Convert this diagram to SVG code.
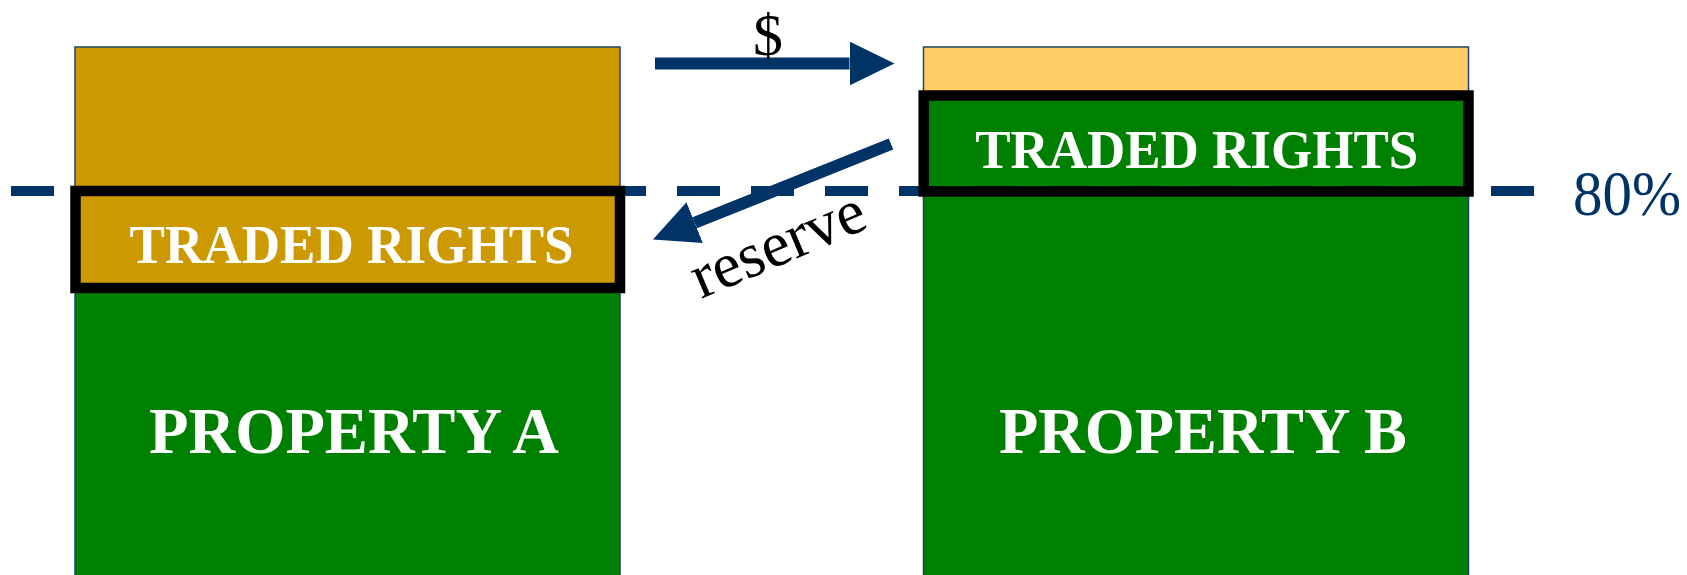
<svg xmlns="http://www.w3.org/2000/svg" width="1687" height="575" viewBox="0 0 1687 575">
  <style>
    .box { stroke: #1F3F6F; stroke-width: 1.5; }
    .frame { fill: none; stroke: #000000; stroke-width: 10.5; }
    .lbl { font-family: "Liberation Serif", "Times New Roman", serif; font-weight: bold; fill: #FFFFFF; text-anchor: middle; }
    .plain { font-family: "Liberation Serif", "Times New Roman", serif; fill: #000000; }
    .arrow { stroke: #003366; stroke-width: 12; fill: none; }
  </style>
  <defs>
    <marker id="head" markerUnits="userSpaceOnUse" markerWidth="46" markerHeight="46" refX="0" refY="22" orient="auto">
      <path d="M0,0 L45,22 L0,44 Z" fill="#003366"/>
    </marker>
  </defs>
  <rect x="0" y="0" width="1687" height="575" fill="#FFFFFF"/>

  <g id="property-a">
    <rect class="box" x="75" y="47" width="545" height="540" fill="#008000"/>
    <rect x="75.75" y="47.75" width="543.5" height="240.25" fill="#CC9900"/>
    <text class="lbl" x="354" y="453" font-size="65" textLength="410" lengthAdjust="spacingAndGlyphs">PROPERTY A</text>
  </g>

  <g id="property-b">
    <rect class="box" x="923.5" y="47" width="545" height="540" fill="#008000"/>
    <rect x="924.25" y="47.75" width="543.5" height="48" fill="#FFCC66"/>
    <text class="lbl" x="1203" y="453" font-size="65" textLength="408" lengthAdjust="spacingAndGlyphs">PROPERTY B</text>
  </g>

  <g id="threshold">
    <line x1="11" y1="191" x2="1534" y2="191" stroke="#003366" stroke-width="10" stroke-dasharray="43 31"/>
    <text x="1573" y="215" font-family="Liberation Serif, Times New Roman, serif" font-size="64" fill="#003366" textLength="108" lengthAdjust="spacingAndGlyphs">80%</text>
  </g>

  <g id="traded-rights-a">
    <rect class="frame" x="75.5" y="191" width="544.5" height="97"/>
    <text class="lbl" x="351.6" y="263" font-size="54" textLength="444" lengthAdjust="spacingAndGlyphs">TRADED RIGHTS</text>
  </g>

  <g id="traded-rights-b">
    <rect class="frame" x="923.7" y="95.5" width="544.8" height="96"/>
    <text class="lbl" x="1196.7" y="167.7" font-size="54" textLength="443" lengthAdjust="spacingAndGlyphs">TRADED RIGHTS</text>
  </g>

  <g id="connectors">
    <line class="arrow" x1="655" y1="63.5" x2="849.5" y2="63.5" marker-end="url(#head)"/>
    <text class="plain" x="768" y="55" font-size="60" text-anchor="middle">$</text>
    <line class="arrow" x1="891" y1="144" x2="694.7" y2="222.7" marker-end="url(#head)"/>
    <text class="plain" x="701" y="299" font-size="64" textLength="184" lengthAdjust="spacingAndGlyphs" transform="rotate(-23 701 299)">reserve</text>
  </g>
</svg>
